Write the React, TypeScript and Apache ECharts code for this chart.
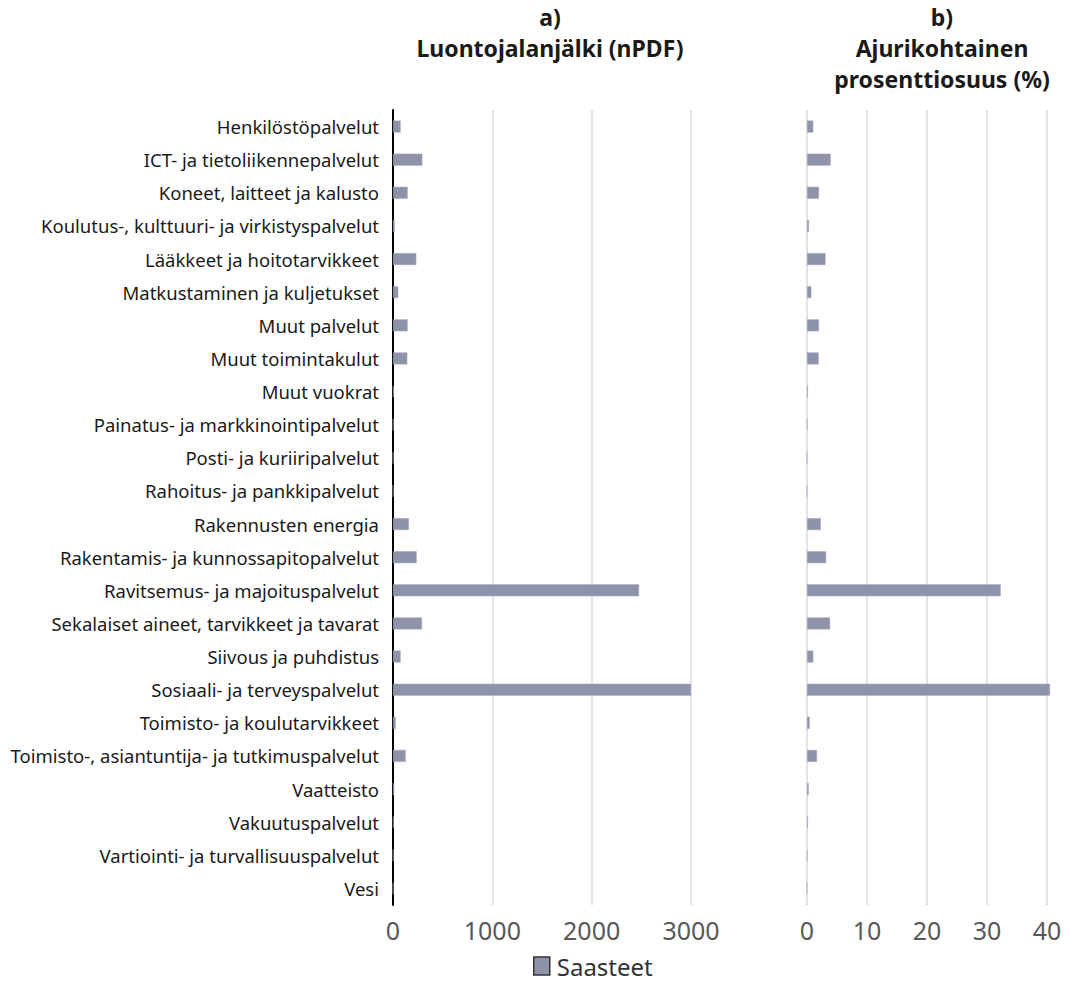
import React, { useEffect, useRef } from "react";
import * as echarts from "echarts";

const categories = [
  "Henkilöstöpalvelut",
  "ICT- ja tietoliikennepalvelut",
  "Koneet, laitteet ja kalusto",
  "Koulutus-, kulttuuri- ja virkistyspalvelut",
  "Lääkkeet ja hoitotarvikkeet",
  "Matkustaminen ja kuljetukset",
  "Muut palvelut",
  "Muut toimintakulut",
  "Muut vuokrat",
  "Painatus- ja markkinointipalvelut",
  "Posti- ja kuriiripalvelut",
  "Rahoitus- ja pankkipalvelut",
  "Rakennusten energia",
  "Rakentamis- ja kunnossapitopalvelut",
  "Ravitsemus- ja majoituspalvelut",
  "Sekalaiset aineet, tarvikkeet ja tavarat",
  "Siivous ja puhdistus",
  "Sosiaali- ja terveyspalvelut",
  "Toimisto- ja koulutarvikkeet",
  "Toimisto-, asiantuntija- ja tutkimuspalvelut",
  "Vaatteisto",
  "Vakuutuspalvelut",
  "Vartiointi- ja turvallisuuspalvelut",
  "Vesi",
];

const footprintValues = [
  77, 295, 148, 17, 235, 53, 148, 144, 6, 3, 2, 2, 160, 238, 2477, 292, 77,
  3000, 27, 128, 12, 6, 3, 1,
];

const shareValues = [
  1.05, 3.95, 2.0, 0.33, 3.1, 0.72, 2.0, 1.95, 0.15, 0.05, 0.03, 0.03, 2.3,
  3.2, 32.3, 3.85, 1.05, 40.5, 0.45, 1.67, 0.28, 0.15, 0.05, 0.02,
];

const titleA = "a)\nLuontojalanjälki (nPDF)";
const titleB = "b)\nAjurikohtainen\nprosenttiosuus (%)";
const seriesName = "Saasteet";

export default function App() {
  const ref = useRef<HTMLDivElement>(null);
  useEffect(() => {
    if (!ref.current) return;
    const chart = echarts.init(ref.current, undefined, { renderer: "svg" });
    const font = "'Noto Sans', 'Open Sans', sans-serif";
    const barColor = "#8e93a9";
    const gridColor = "#d9d9d9";
    const titleStyle = {
      fontFamily: font,
      fontSize: 23,
      fontWeight: "bold",
      color: "#1a1a1a",
      lineHeight: 31,
    };
    const tickLabel = {
      fontFamily: font,
      fontSize: 25,
      color: "#595959",
      margin: 12,
      formatter: (v: number) => String(v),
    };
    chart.setOption({
      animation: false,
      backgroundColor: "#ffffff",
      textStyle: { fontFamily: font },
      title: [
        { text: titleA, left: 550, top: 1, padding: 0, textAlign: "center", textStyle: titleStyle },
        { text: titleB, left: 942, top: 1, padding: 0, textAlign: "center", textStyle: titleStyle },
      ],
      legend: {
        data: [seriesName],
        left: 531,
        top: 952,
        padding: 2,
        icon: "rect",
        itemWidth: 16,
        itemHeight: 18,
        itemGap: 6,
        itemStyle: { borderColor: "#333333", borderWidth: 1.5 },
        textStyle: { fontFamily: font, fontSize: 24, color: "#333333", padding: [0, 0, 0, 2] },
      },
      grid: [
        { left: 393, top: 110, width: 298, height: 795, containLabel: false },
        { left: 807, top: 110, width: 240, height: 795, containLabel: false },
      ],
      xAxis: [
        {
          type: "value",
          gridIndex: 0,
          min: 0,
          max: 3000,
          interval: 1000,
          axisLine: { show: false },
          axisTick: { show: false },
          splitLine: { show: true, lineStyle: { color: gridColor, width: 1.5 } },
          axisLabel: tickLabel,
        },
        {
          type: "value",
          gridIndex: 1,
          min: 0,
          max: 40,
          interval: 10,
          axisLine: { show: false },
          axisTick: { show: false },
          splitLine: { show: true, lineStyle: { color: gridColor, width: 1.5 } },
          axisLabel: tickLabel,
        },
      ],
      yAxis: [
        {
          type: "category",
          gridIndex: 0,
          data: categories,
          inverse: true,
          axisLine: { show: true, lineStyle: { color: "#000000", width: 2 } },
          axisTick: { show: false },
          axisLabel: {
            fontFamily: font,
            fontSize: 18.5,
            color: "#1a1a1a",
            margin: 14,
            interval: 0,
          },
        },
        {
          type: "category",
          gridIndex: 1,
          data: categories,
          inverse: true,
          axisLine: { show: false },
          axisTick: { show: false },
          axisLabel: { show: false },
        },
      ],
      series: [
        {
          name: seriesName,
          type: "bar",
          xAxisIndex: 0,
          yAxisIndex: 0,
          data: footprintValues,
          barWidth: 12,
          clip: false,
          itemStyle: { color: barColor, borderColor: "#a9adbf", borderWidth: 0.5 },
        },
        {
          name: seriesName,
          type: "bar",
          xAxisIndex: 1,
          yAxisIndex: 1,
          data: shareValues,
          barWidth: 12,
          clip: false,
          itemStyle: { color: barColor, borderColor: "#a9adbf", borderWidth: 0.5 },
        },
      ],
    });
    return () => chart.dispose();
  }, []);
  return (
    <div
      ref={ref}
      style={{ position: "fixed", left: 0, top: 0, width: 1070, height: 987 }}
    />
  );
}
